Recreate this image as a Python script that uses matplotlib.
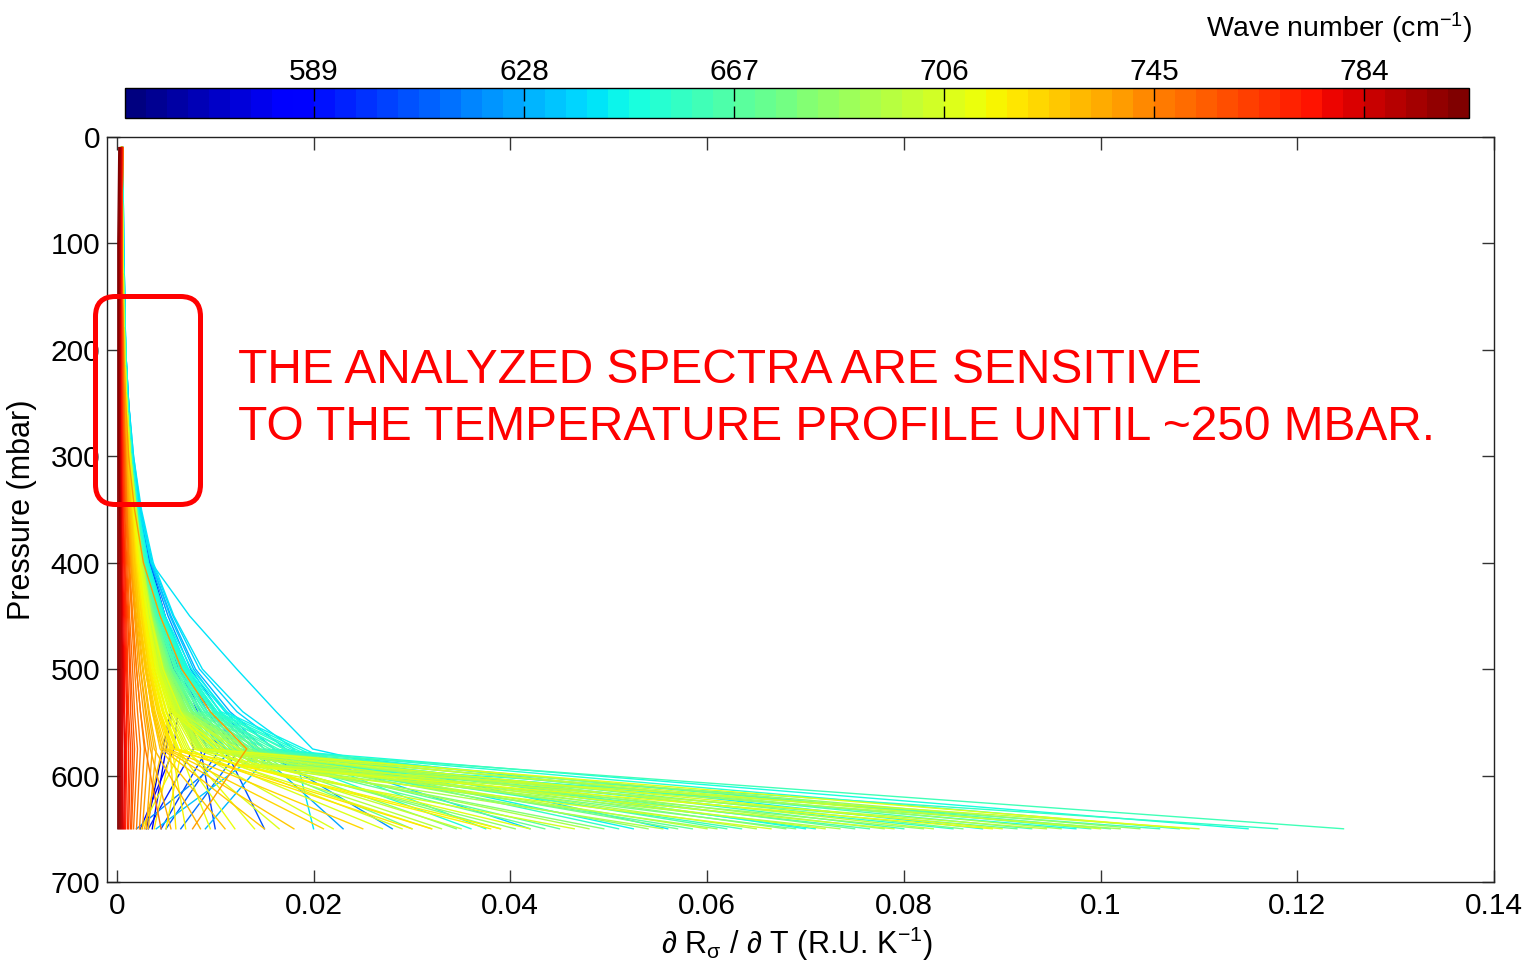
import matplotlib
matplotlib.use("Agg")
import matplotlib.pyplot as plt
import numpy as np
from matplotlib.colors import ListedColormap, Normalize
from matplotlib.patches import FancyBboxPatch
from matplotlib.transforms import IdentityTransform
import matplotlib.colorbar as mcolorbar

plt.rcParams['font.family'] = ['Liberation Sans', 'DejaVu Sans']
plt.rcParams['mathtext.fontset'] = 'custom'
plt.rcParams['mathtext.rm'] = 'Liberation Sans'
plt.rcParams['mathtext.it'] = 'Liberation Sans:italic'
plt.rcParams['mathtext.default'] = 'regular'

# ---------------- data ----------------
PRESSURE_MBAR = [10, 100, 200, 250, 300, 350, 400, 450, 500, 540, 575, 650]
PRESSURE_MBAR_LATE = [10, 100, 200, 250, 300, 350, 400, 450, 500, 540, 590, 650]

RED_WAVENUMBERS = [802, 798, 794, 790, 786, 782, 778, 774, 770, 766, 762, 758]
RED_PROFILES = [
    [0.0002, 0.0001, 0.0001, 0.0001, 0.0001, 0.0001, 0.0001, 0.0001, 0.0001, 0.0001, 0.0001, 0.0001],
    [0.0003, 0.0002, 0.0002, 0.0002, 0.0002, 0.0002, 0.0002, 0.0002, 0.0002, 0.0002, 0.0002, 0.0002],
    [0.0003, 0.0002, 0.0002, 0.0002, 0.0002, 0.0003, 0.0003, 0.0003, 0.0003, 0.0003, 0.0003, 0.0003],
    [0.0004, 0.0003, 0.0003, 0.0003, 0.0003, 0.0003, 0.0004, 0.0004, 0.0004, 0.0004, 0.0004, 0.0004],
    [0.0004, 0.0003, 0.0003, 0.0003, 0.0003, 0.0004, 0.0004, 0.0005, 0.0005, 0.0005, 0.0005, 0.0005],
    [0.0004, 0.0003, 0.0003, 0.0003, 0.0004, 0.0004, 0.0005, 0.0005, 0.0006, 0.0006, 0.0006, 0.0006],
    [0.0005, 0.0004, 0.0004, 0.0004, 0.0004, 0.0005, 0.0005, 0.0006, 0.0007, 0.0007, 0.0008, 0.0007],
    [0.0005, 0.0004, 0.0004, 0.0004, 0.0005, 0.0005, 0.0006, 0.0007, 0.0008, 0.0008, 0.0009, 0.0008],
    [0.0005, 0.0004, 0.0004, 0.0005, 0.0005, 0.0006, 0.0007, 0.0008, 0.0009, 0.0010, 0.0010, 0.0009],
    [0.0005, 0.0004, 0.0005, 0.0005, 0.0006, 0.0006, 0.0008, 0.0009, 0.0010, 0.0011, 0.0012, 0.0011],
    [0.0005, 0.0005, 0.0005, 0.0005, 0.0006, 0.0007, 0.0008, 0.0010, 0.0011, 0.0012, 0.0014, 0.0012],
    [0.0006, 0.0005, 0.0005, 0.0006, 0.0007, 0.0008, 0.0009, 0.0011, 0.0013, 0.0014, 0.0016, 0.0014],
]

ORANGE_WAVENUMBERS = [755, 751, 747, 743, 739, 735, 741]
ORANGE_PROFILES = [
    [0.0006, 0.0005, 0.0006, 0.0006, 0.0007, 0.0008, 0.0010, 0.0012, 0.0014, 0.0016, 0.0018, 0.0015],
    [0.0006, 0.0005, 0.0006, 0.0007, 0.0008, 0.0009, 0.0011, 0.0013, 0.0016, 0.0018, 0.0021, 0.0017],
    [0.0006, 0.0005, 0.0006, 0.0007, 0.0008, 0.0010, 0.0012, 0.0015, 0.0018, 0.0021, 0.0024, 0.0020],
    [0.0006, 0.0005, 0.0006, 0.0007, 0.0009, 0.0010, 0.0013, 0.0016, 0.0020, 0.0024, 0.0028, 0.0023],
    [0.0006, 0.0005, 0.0006, 0.0008, 0.0009, 0.0011, 0.0014, 0.0018, 0.0022, 0.0027, 0.0032, 0.0026],
    [0.0006, 0.0005, 0.0006, 0.0008, 0.0010, 0.0012, 0.0015, 0.0019, 0.0024, 0.0030, 0.0036, 0.0030],
    [0.0006, 0.0005, 0.0007, 0.0009, 0.0012, 0.0018, 0.0027, 0.0044, 0.0066, 0.0095, 0.0132, 0.0077],
]

YELLOW_WAVENUMBERS = [732, 729, 726, 723, 720, 717, 714, 711, 708, 705, 702, 727, 719, 713]
YELLOW_PROFILES = [
    [0.0005, 0.0005, 0.0006, 0.0008, 0.0010, 0.0013, 0.0016, 0.0021, 0.0027, 0.0033, 0.0040, 0.0032],
    [0.0005, 0.0005, 0.0006, 0.0008, 0.0011, 0.0013, 0.0017, 0.0022, 0.0029, 0.0036, 0.0044, 0.0110],
    [0.0005, 0.0005, 0.0007, 0.0008, 0.0011, 0.0014, 0.0018, 0.0023, 0.0030, 0.0038, 0.0048, 0.0180],
    [0.0005, 0.0005, 0.0007, 0.0009, 0.0012, 0.0015, 0.0019, 0.0025, 0.0032, 0.0041, 0.0052, 0.0250],
    [0.0005, 0.0005, 0.0007, 0.0009, 0.0012, 0.0015, 0.0020, 0.0026, 0.0034, 0.0044, 0.0057, 0.0320],
    [0.0005, 0.0005, 0.0007, 0.0009, 0.0012, 0.0016, 0.0021, 0.0028, 0.0036, 0.0047, 0.0061, 0.0390],
    [0.0005, 0.0005, 0.0007, 0.0009, 0.0012, 0.0017, 0.0022, 0.0029, 0.0038, 0.0050, 0.0066, 0.0050],
    [0.0005, 0.0005, 0.0007, 0.0009, 0.0013, 0.0017, 0.0023, 0.0031, 0.0040, 0.0053, 0.0070, 0.0140],
    [0.0005, 0.0006, 0.0007, 0.0009, 0.0013, 0.0018, 0.0024, 0.0032, 0.0042, 0.0056, 0.0074, 0.0220],
    [0.0005, 0.0006, 0.0007, 0.0010, 0.0014, 0.0019, 0.0025, 0.0034, 0.0045, 0.0060, 0.0080, 0.0290],
    [0.0005, 0.0006, 0.0008, 0.0010, 0.0014, 0.0020, 0.0026, 0.0035, 0.0047, 0.0063, 0.0085, 0.0350],
    [0.0005, 0.0005, 0.0006, 0.0008, 0.0011, 0.0014, 0.0017, 0.0022, 0.0029, 0.0037, 0.0046, 0.0028],
    [0.0005, 0.0005, 0.0007, 0.0008, 0.0011, 0.0015, 0.0020, 0.0026, 0.0033, 0.0043, 0.0055, 0.0038],
    [0.0005, 0.0005, 0.0007, 0.0009, 0.0012, 0.0017, 0.0022, 0.0029, 0.0037, 0.0048, 0.0063, 0.0095],
]

FAN_WAVENUMBERS = [716, 712, 709, 724, 721, 733, 737, 707, 715, 728, 603, 612, 626, 719, 745, 711]
FAN_PROFILES = [
    [0.0005, 0.0005, 0.0007, 0.0009, 0.0011, 0.0014, 0.0019, 0.0025, 0.0033, 0.0043, 0.0056, 0.0070],
    [0.0005, 0.0005, 0.0007, 0.0009, 0.0012, 0.0015, 0.0020, 0.0027, 0.0036, 0.0047, 0.0062, 0.0120],
    [0.0005, 0.0006, 0.0007, 0.0009, 0.0012, 0.0016, 0.0022, 0.0029, 0.0039, 0.0051, 0.0068, 0.0165],
    [0.0005, 0.0005, 0.0006, 0.0008, 0.0010, 0.0013, 0.0017, 0.0023, 0.0031, 0.0039, 0.0050, 0.0210],
    [0.0005, 0.0005, 0.0006, 0.0008, 0.0011, 0.0014, 0.0018, 0.0024, 0.0033, 0.0042, 0.0054, 0.0060],
    [0.0005, 0.0005, 0.0006, 0.0008, 0.0010, 0.0012, 0.0015, 0.0020, 0.0026, 0.0032, 0.0038, 0.0085],
    [0.0005, 0.0005, 0.0006, 0.0007, 0.0009, 0.0011, 0.0014, 0.0019, 0.0024, 0.0029, 0.0034, 0.0055],
    [0.0005, 0.0006, 0.0007, 0.0010, 0.0013, 0.0017, 0.0023, 0.0031, 0.0041, 0.0054, 0.0072, 0.0270],
    [0.0005, 0.0005, 0.0007, 0.0009, 0.0012, 0.0015, 0.0020, 0.0027, 0.0035, 0.0046, 0.0060, 0.0380],
    [0.0005, 0.0005, 0.0006, 0.0008, 0.0010, 0.0013, 0.0016, 0.0022, 0.0029, 0.0036, 0.0046, 0.0150],
    [0.0005, 0.0006, 0.0008, 0.0010, 0.0014, 0.0020, 0.0029, 0.0042, 0.0058, 0.0070, 0.0085, 0.0100],
    [0.0005, 0.0006, 0.0008, 0.0011, 0.0015, 0.0021, 0.0031, 0.0046, 0.0064, 0.0082, 0.0105, 0.0050],
    [0.0005, 0.0006, 0.0008, 0.0011, 0.0015, 0.0022, 0.0032, 0.0049, 0.0072, 0.0100, 0.0140, 0.0230],
    [0.0005, 0.0005, 0.0007, 0.0008, 0.0011, 0.0015, 0.0019, 0.0026, 0.0034, 0.0044, 0.0058, 0.0300],
    [0.0005, 0.0005, 0.0006, 0.0007, 0.0008, 0.0010, 0.0012, 0.0016, 0.0020, 0.0024, 0.0029, 0.0045],
    [0.0005, 0.0005, 0.0007, 0.0009, 0.0012, 0.0016, 0.0021, 0.0028, 0.0038, 0.0050, 0.0066, 0.0025],
]

BLUE_WAVENUMBERS = [571, 578, 586, 594, 601, 608, 615, 622, 629, 636, 640, 643, 633, 618]
BLUE_PROFILES = [
    [0.0006, 0.0006, 0.0008, 0.0011, 0.0015, 0.0022, 0.0034, 0.0049, 0.0062, 0.0054, 0.0047, 0.0030],
    [0.0006, 0.0006, 0.0008, 0.0011, 0.0015, 0.0022, 0.0033, 0.0047, 0.0060, 0.0056, 0.0050, 0.0036],
    [0.0006, 0.0006, 0.0008, 0.0011, 0.0015, 0.0021, 0.0031, 0.0044, 0.0057, 0.0062, 0.0058, 0.0024],
    [0.0006, 0.0006, 0.0008, 0.0011, 0.0014, 0.0020, 0.0030, 0.0042, 0.0056, 0.0068, 0.0078, 0.0032],
    [0.0006, 0.0006, 0.0008, 0.0011, 0.0014, 0.0020, 0.0030, 0.0043, 0.0060, 0.0076, 0.0092, 0.0045],
    [0.0006, 0.0006, 0.0008, 0.0011, 0.0015, 0.0021, 0.0032, 0.0046, 0.0065, 0.0085, 0.0110, 0.0150],
    [0.0006, 0.0006, 0.0008, 0.0011, 0.0015, 0.0022, 0.0033, 0.0049, 0.0070, 0.0095, 0.0125, 0.0065],
    [0.0006, 0.0006, 0.0008, 0.0012, 0.0016, 0.0023, 0.0034, 0.0052, 0.0075, 0.0105, 0.0145, 0.0280],
    [0.0006, 0.0007, 0.0009, 0.0012, 0.0016, 0.0024, 0.0035, 0.0055, 0.0080, 0.0115, 0.0160, 0.0090],
    [0.0006, 0.0007, 0.0009, 0.0012, 0.0017, 0.0024, 0.0036, 0.0057, 0.0084, 0.0122, 0.0172, 0.0420],
    [0.0006, 0.0006, 0.0008, 0.0011, 0.0016, 0.0023, 0.0035, 0.0074, 0.0122, 0.0162, 0.0199, 0.0560],
    [0.0006, 0.0007, 0.0009, 0.0012, 0.0017, 0.0025, 0.0037, 0.0058, 0.0087, 0.0128, 0.0180, 0.0200],
    [0.0006, 0.0007, 0.0009, 0.0012, 0.0016, 0.0024, 0.0035, 0.0054, 0.0078, 0.0110, 0.0150, 0.0040],
    [0.0006, 0.0006, 0.0008, 0.0011, 0.0015, 0.0022, 0.0032, 0.0048, 0.0068, 0.0092, 0.0120, 0.0020],
]

BUNDLE_WAVENUMBERS = [662, 648, 708, 652, 684, 670, 700, 656, 690, 666, 704, 646, 678, 696, 660, 688, 674,
                      702, 650, 682, 694, 664, 698, 676, 686, 658, 692, 668, 706, 680, 654, 697, 672]
BUNDLE_PROFILES = [
    [0.0005, 0.0005, 0.0007, 0.0010, 0.0014, 0.0019, 0.0027, 0.0040, 0.0060, 0.0086, 0.0120, 0.1247],
    [0.0006, 0.0006, 0.0008, 0.0011, 0.0015, 0.0021, 0.0031, 0.0047, 0.0072, 0.0105, 0.0150, 0.1150],
    [0.0005, 0.0005, 0.0007, 0.0009, 0.0013, 0.0017, 0.0024, 0.0034, 0.0047, 0.0065, 0.0090, 0.1090],
    [0.0006, 0.0006, 0.0008, 0.0011, 0.0015, 0.0020, 0.0030, 0.0045, 0.0068, 0.0098, 0.0140, 0.1080],
    [0.0005, 0.0005, 0.0007, 0.0010, 0.0013, 0.0018, 0.0025, 0.0036, 0.0051, 0.0072, 0.0100, 0.1040],
    [0.0005, 0.0005, 0.0007, 0.0010, 0.0014, 0.0019, 0.0027, 0.0039, 0.0057, 0.0081, 0.0115, 0.1010],
    [0.0005, 0.0005, 0.0007, 0.0009, 0.0013, 0.0017, 0.0023, 0.0032, 0.0045, 0.0062, 0.0085, 0.1000],
    [0.0006, 0.0006, 0.0008, 0.0011, 0.0015, 0.0020, 0.0029, 0.0043, 0.0064, 0.0092, 0.0130, 0.0990],
    [0.0005, 0.0005, 0.0007, 0.0010, 0.0013, 0.0018, 0.0024, 0.0034, 0.0048, 0.0068, 0.0095, 0.0960],
    [0.0005, 0.0005, 0.0007, 0.0010, 0.0014, 0.0019, 0.0026, 0.0038, 0.0055, 0.0078, 0.0110, 0.0930],
    [0.0005, 0.0005, 0.0007, 0.0009, 0.0012, 0.0016, 0.0022, 0.0031, 0.0043, 0.0059, 0.0080, 0.0900],
    [0.0006, 0.0006, 0.0008, 0.0011, 0.0016, 0.0022, 0.0032, 0.0049, 0.0076, 0.0112, 0.0160, 0.0880],
    [0.0005, 0.0005, 0.0007, 0.0010, 0.0013, 0.0018, 0.0025, 0.0035, 0.0050, 0.0071, 0.0100, 0.0860],
    [0.0005, 0.0005, 0.0007, 0.0009, 0.0013, 0.0017, 0.0023, 0.0033, 0.0046, 0.0064, 0.0088, 0.0830],
    [0.0006, 0.0005, 0.0007, 0.0010, 0.0014, 0.0020, 0.0028, 0.0041, 0.0062, 0.0089, 0.0125, 0.0800],
    [0.0005, 0.0005, 0.0007, 0.0010, 0.0013, 0.0017, 0.0024, 0.0034, 0.0047, 0.0066, 0.0092, 0.0780],
    [0.0005, 0.0005, 0.0007, 0.0010, 0.0014, 0.0018, 0.0026, 0.0037, 0.0053, 0.0075, 0.0105, 0.0750],
    [0.0005, 0.0005, 0.0007, 0.0009, 0.0012, 0.0016, 0.0022, 0.0031, 0.0044, 0.0060, 0.0082, 0.0720],
    [0.0006, 0.0006, 0.0008, 0.0011, 0.0015, 0.0021, 0.0031, 0.0047, 0.0070, 0.0102, 0.0145, 0.0700],
    [0.0005, 0.0005, 0.0007, 0.0010, 0.0013, 0.0018, 0.0025, 0.0035, 0.0050, 0.0070, 0.0098, 0.0680],
    [0.0005, 0.0005, 0.0007, 0.0009, 0.0013, 0.0017, 0.0023, 0.0032, 0.0045, 0.0063, 0.0087, 0.0650],
    [0.0005, 0.0005, 0.0007, 0.0010, 0.0014, 0.0019, 0.0027, 0.0040, 0.0059, 0.0084, 0.0118, 0.0620],
    [0.0005, 0.0005, 0.0007, 0.0009, 0.0012, 0.0016, 0.0022, 0.0031, 0.0044, 0.0061, 0.0083, 0.0600],
    [0.0005, 0.0005, 0.0007, 0.0010, 0.0014, 0.0018, 0.0025, 0.0036, 0.0052, 0.0073, 0.0102, 0.0570],
    [0.0005, 0.0005, 0.0007, 0.0010, 0.0013, 0.0017, 0.0024, 0.0034, 0.0048, 0.0067, 0.0093, 0.0540],
    [0.0006, 0.0006, 0.0008, 0.0011, 0.0015, 0.0020, 0.0029, 0.0044, 0.0066, 0.0095, 0.0135, 0.0510],
    [0.0005, 0.0005, 0.0007, 0.0009, 0.0013, 0.0017, 0.0023, 0.0033, 0.0046, 0.0063, 0.0086, 0.0480],
    [0.0005, 0.0005, 0.0007, 0.0010, 0.0014, 0.0019, 0.0027, 0.0039, 0.0056, 0.0080, 0.0112, 0.0450],
    [0.0005, 0.0005, 0.0007, 0.0009, 0.0012, 0.0016, 0.0021, 0.0030, 0.0042, 0.0057, 0.0078, 0.0420],
    [0.0005, 0.0005, 0.0007, 0.0010, 0.0013, 0.0018, 0.0025, 0.0035, 0.0049, 0.0069, 0.0097, 0.0390],
    [0.0006, 0.0006, 0.0008, 0.0011, 0.0015, 0.0021, 0.0030, 0.0046, 0.0069, 0.0099, 0.0140, 0.0360],
    [0.0005, 0.0005, 0.0007, 0.0009, 0.0013, 0.0017, 0.0023, 0.0032, 0.0045, 0.0062, 0.0084, 0.0330],
    [0.0005, 0.0005, 0.0007, 0.0010, 0.0014, 0.0018, 0.0026, 0.0038, 0.0054, 0.0077, 0.0108, 0.0300],
]

# lines whose lower kink sits deeper (on PRESSURE_MBAR_LATE)
LATE_BUNDLE_WAVENUMBERS = [657, 701, 663, 689, 649, 695, 671, 707, 659, 683, 699, 665, 691, 653,
                           677, 703, 661, 687, 669, 693, 647, 681, 705, 673, 685, 655, 679, 709]
LATE_BUNDLE_PROFILES = [
    [0.0005, 0.0006, 0.0008, 0.0010, 0.0014, 0.0020, 0.0029, 0.0044, 0.0066, 0.0098, 0.0200, 0.1180],
    [0.0004, 0.0005, 0.0007, 0.0009, 0.0012, 0.0016, 0.0022, 0.0031, 0.0044, 0.0062, 0.0150, 0.1100],
    [0.0005, 0.0006, 0.0008, 0.0010, 0.0014, 0.0019, 0.0028, 0.0041, 0.0061, 0.0090, 0.0190, 0.1060],
    [0.0004, 0.0005, 0.0008, 0.0010, 0.0013, 0.0017, 0.0024, 0.0034, 0.0049, 0.0070, 0.0160, 0.1020],
    [0.0005, 0.0006, 0.0009, 0.0011, 0.0015, 0.0021, 0.0031, 0.0047, 0.0071, 0.0106, 0.0220, 0.0975],
    [0.0004, 0.0005, 0.0007, 0.0009, 0.0012, 0.0016, 0.0023, 0.0032, 0.0046, 0.0065, 0.0140, 0.0945],
    [0.0005, 0.0006, 0.0008, 0.0010, 0.0013, 0.0018, 0.0026, 0.0038, 0.0055, 0.0080, 0.0175, 0.0915],
    [0.0004, 0.0005, 0.0007, 0.0009, 0.0012, 0.0015, 0.0021, 0.0030, 0.0042, 0.0058, 0.0130, 0.0890],
    [0.0005, 0.0006, 0.0008, 0.0010, 0.0014, 0.0020, 0.0029, 0.0043, 0.0064, 0.0095, 0.0205, 0.0850],
    [0.0004, 0.0005, 0.0008, 0.0010, 0.0013, 0.0017, 0.0025, 0.0035, 0.0050, 0.0072, 0.0155, 0.0820],
    [0.0004, 0.0005, 0.0007, 0.0009, 0.0012, 0.0016, 0.0022, 0.0031, 0.0044, 0.0061, 0.0135, 0.0790],
    [0.0005, 0.0006, 0.0008, 0.0010, 0.0014, 0.0019, 0.0027, 0.0040, 0.0059, 0.0087, 0.0185, 0.0765],
    [0.0004, 0.0005, 0.0007, 0.0010, 0.0013, 0.0017, 0.0024, 0.0034, 0.0048, 0.0068, 0.0145, 0.0735],
    [0.0005, 0.0006, 0.0009, 0.0011, 0.0015, 0.0021, 0.0030, 0.0046, 0.0069, 0.0102, 0.0215, 0.0710],
    [0.0005, 0.0006, 0.0008, 0.0010, 0.0013, 0.0018, 0.0026, 0.0037, 0.0054, 0.0077, 0.0165, 0.0690],
    [0.0004, 0.0005, 0.0007, 0.0009, 0.0012, 0.0015, 0.0021, 0.0030, 0.0042, 0.0059, 0.0125, 0.0665],
    [0.0005, 0.0006, 0.0008, 0.0010, 0.0014, 0.0020, 0.0028, 0.0042, 0.0062, 0.0092, 0.0195, 0.0635],
    [0.0004, 0.0005, 0.0008, 0.0010, 0.0013, 0.0017, 0.0024, 0.0035, 0.0049, 0.0070, 0.0150, 0.0610],
    [0.0005, 0.0006, 0.0008, 0.0010, 0.0013, 0.0019, 0.0027, 0.0039, 0.0057, 0.0084, 0.0180, 0.0585],
    [0.0004, 0.0005, 0.0007, 0.0009, 0.0012, 0.0016, 0.0023, 0.0033, 0.0047, 0.0066, 0.0140, 0.0555],
    [0.0005, 0.0006, 0.0009, 0.0011, 0.0015, 0.0022, 0.0032, 0.0048, 0.0073, 0.0110, 0.0225, 0.0525],
    [0.0004, 0.0005, 0.0008, 0.0010, 0.0013, 0.0018, 0.0025, 0.0036, 0.0052, 0.0075, 0.0160, 0.0495],
    [0.0004, 0.0005, 0.0007, 0.0009, 0.0011, 0.0015, 0.0021, 0.0029, 0.0041, 0.0057, 0.0120, 0.0465],
    [0.0005, 0.0006, 0.0008, 0.0010, 0.0013, 0.0018, 0.0026, 0.0038, 0.0056, 0.0081, 0.0170, 0.0435],
    [0.0004, 0.0005, 0.0008, 0.0010, 0.0013, 0.0017, 0.0025, 0.0035, 0.0050, 0.0071, 0.0150, 0.0405],
    [0.0005, 0.0006, 0.0009, 0.0011, 0.0015, 0.0021, 0.0030, 0.0045, 0.0067, 0.0100, 0.0210, 0.0375],
    [0.0005, 0.0006, 0.0008, 0.0010, 0.0013, 0.0018, 0.0026, 0.0037, 0.0053, 0.0076, 0.0160, 0.0345],
    [0.0004, 0.0005, 0.0007, 0.0009, 0.0011, 0.0015, 0.0020, 0.0028, 0.0040, 0.0055, 0.0120, 0.0320],
]

X_TICKS = [0, 0.02, 0.04, 0.06, 0.08, 0.10, 0.12, 0.14]
X_TICK_LABELS = ['0', '0.02', '0.04', '0.06', '0.08', '0.1', '0.12', '0.14']
Y_TICKS = [0, 100, 200, 300, 400, 500, 600, 700]
CBAR_TICKS = [589, 628, 667, 706, 745, 784]
WAVENUMBER_RANGE = (553.9, 803.5)

ANNOTATION_LINES = ["THE ANALYZED SPECTRA ARE SENSITIVE",
                    "TO THE TEMPERATURE PROFILE UNTIL ~250 MBAR."]

# ---------------- figure ----------------
W, H = 1535, 969
fig = plt.figure(figsize=(W / 100, H / 100), dpi=100)
ax = fig.add_axes([107 / W, (H - 882) / H, (1494 - 107) / W, (882 - 137) / H])

cmap = ListedColormap(plt.get_cmap('jet')(np.linspace(0, 1, 64)))
norm = Normalize(*WAVENUMBER_RANGE)

lines = []
for wns, profs, pres in [(RED_WAVENUMBERS, RED_PROFILES, PRESSURE_MBAR),
                         (ORANGE_WAVENUMBERS, ORANGE_PROFILES, PRESSURE_MBAR),
                         (YELLOW_WAVENUMBERS, YELLOW_PROFILES, PRESSURE_MBAR),
                         (FAN_WAVENUMBERS, FAN_PROFILES, PRESSURE_MBAR),
                         (BLUE_WAVENUMBERS, BLUE_PROFILES, PRESSURE_MBAR),
                         (BUNDLE_WAVENUMBERS, BUNDLE_PROFILES, PRESSURE_MBAR),
                         (LATE_BUNDLE_WAVENUMBERS, LATE_BUNDLE_PROFILES, PRESSURE_MBAR_LATE)]:
    for wn, prof in zip(wns, profs):
        lines.append((wn, prof, pres))
lines.sort(key=lambda t: t[0])
for wn, prof, pres in lines:
    ax.plot(prof, pres, color=cmap(norm(wn)), lw=1.0, solid_joinstyle='miter')

ax.set_xlim(-0.001, 0.14)
ax.set_ylim(700, 0)
ax.set_xticks(X_TICKS)
ax.set_xticklabels(X_TICK_LABELS)
ax.set_yticks(Y_TICKS)
ax.tick_params(axis='both', direction='in', length=9, width=1.0, color='#333333',
               labelsize=21.5, top=True, right=True)
ax.tick_params(axis='x', pad=7)
ax.tick_params(axis='y', pad=5)
for s in ax.spines.values():
    s.set_linewidth(1.0)
    s.set_color('#222222')

ax.set_ylabel('Pressure (mbar)', fontsize=22, labelpad=10)
fig.text(797 / W, (H - 944) / H, r'∂ R$_{\sigma}$ / ∂ T (R.U. K$^{-1}$)', fontsize=22,
         ha='center', va='center')

# colorbar
cax = fig.add_axes([125 / W, (H - 118) / H, 1344 / W, 30 / H])
cb = mcolorbar.ColorbarBase(cax, cmap=cmap, norm=norm, orientation='horizontal', ticks=CBAR_TICKS)
cax.xaxis.set_ticks_position('both')
cax.xaxis.set_label_position('top')
cax.tick_params(axis='x', direction='in', length=9, width=1.0, color='black',
                labeltop=True, labelbottom=False, labelsize=21.5, pad=1.5)
cb.outline.set_linewidth(1.0)
fig.text(1472 / W, (H - 28) / H, r'Wave number (cm$^{-1}$)', fontsize=20.5, ha='right', va='center')

# annotation
fig.text(238 / W, (H - 383) / H, ANNOTATION_LINES[0], fontsize=34.5, color='#ff0000', ha='left', va='baseline')
fig.text(238 / W, (H - 440) / H, ANNOTATION_LINES[1], fontsize=34.5, color='#ff0000', ha='left', va='baseline')

box = FancyBboxPatch((95.5, H - 504.5), 105, 208,
                     boxstyle='round,pad=0,rounding_size=20',
                     transform=IdentityTransform(), fill=False, edgecolor='#ff0000', lw=3.6)
fig.add_artist(box)

fig.savefig('out.png', dpi=100)
